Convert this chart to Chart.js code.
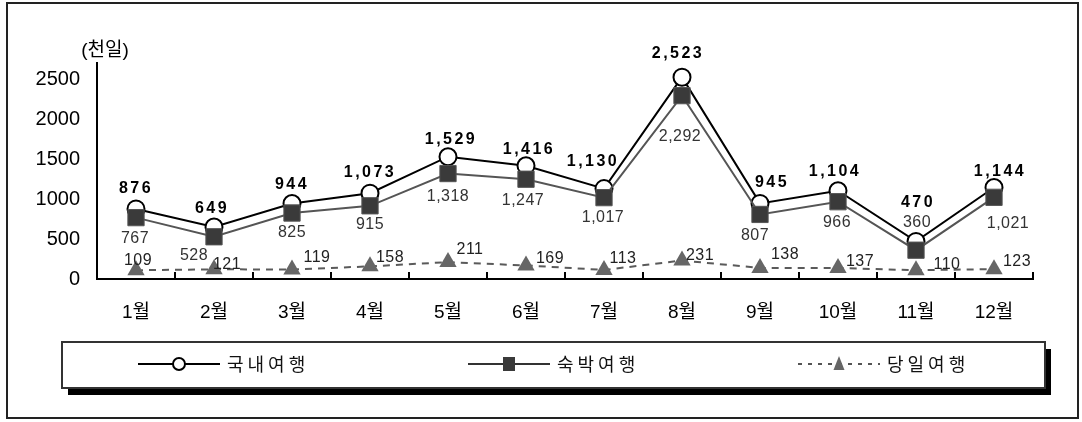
<!DOCTYPE html>
<html>
<head>
<meta charset="utf-8">
<script src="https://cdn.jsdelivr.net/npm/chart.js@4.4.0/dist/chart.umd.min.js"></script>
<style>
html,body{margin:0;padding:0;background:#fff;}
#wrap{width:1082px;height:422px;position:relative;}
canvas{display:block;}
</style>
</head>
<body>
<div id="wrap"><canvas id="c" width="1082" height="422"></canvas></div>
<script>
// ---- data ----
const months = ['1월','2월','3월','4월','5월','6월','7월','8월','9월','10월','11월','12월'];
const domestic = [876, 649, 944, 1073, 1529, 1416, 1130, 2523, 945, 1104, 470, 1144];
const overnight = [767, 528, 825, 915, 1318, 1247, 1017, 2292, 807, 966, 360, 1021];
const dayTrip = [109, 121, 119, 158, 211, 169, 113, 231, 138, 137, 110, 123];
const seriesNames = ['국내여행', '숙박여행', '당일여행'];
const yTickValues = [0, 500, 1000, 1500, 2000, 2500];
const unitLabel = '(천일)';

// ---- label placement (relative offsets, styling only) ----
const labelOffsets = [
  [[0,-20],[-2,-18],[0,-19],[0,-21],[3,-17],[3,-16],[-11,-27],[-4,-24],[12,-21],[-3,-19],[2,-39],[6,-16]],
  [[-1,21],[-20,19],[0,20],[0,19],[0,23],[-3,21],[-1,20],[-2,41],[-5,21],[-1,21],[1,-28],[14,26]],
  [[2,-10],[13,-5],[25,-12],[20,-9],[22,-13],[24,-7],[19,-11],[18,-5],[25,-13],[22,-6],[31,-6],[23,-8]]
];
const labelFonts = [
  {font:'bold 16px "Liberation Sans", Arial, sans-serif', color:'#000', spacing:'2.5px'},
  {font:'16px "Liberation Sans", Arial, sans-serif', color:'#333', spacing:'0.5px'},
  {font:'16px "Liberation Sans", Arial, sans-serif', color:'#222', spacing:'0.5px'}
];

function fmt(v){ return v.toLocaleString('en-US'); }

const extras = {
  id: 'extras',
  beforeDraw(chart){
    const ctx = chart.ctx;
    ctx.save();
    ctx.fillStyle = '#fff';
    ctx.fillRect(0,0,chart.width,chart.height);
    ctx.restore();
  },
  afterDraw(chart){
    const ctx = chart.ctx;
    const xs = chart.scales.x;
    const area = chart.chartArea;
    ctx.save();
    // outer frame
    ctx.strokeStyle = '#222';
    ctx.lineWidth = 2;
    ctx.strokeRect(7, 3, 1071, 415);

    // upward tick marks on x axis between categories
    ctx.strokeStyle = '#000';
    ctx.lineWidth = 2;
    for (let i = 0; i <= months.length; i++) {
      const x = Math.round(xs.getPixelForValue(i - 0.5));
      ctx.beginPath();
      ctx.moveTo(x, area.bottom);
      ctx.lineTo(x, area.bottom - 7);
      ctx.stroke();
    }

    // unit label
    ctx.fillStyle = '#000';
    ctx.font = '19px "Liberation Sans", "Noto Sans CJK KR", sans-serif';
    ctx.textAlign = 'center';
    ctx.textBaseline = 'middle';
    ctx.fillText(unitLabel, area.left + 8, area.top - 12);

    // legend box with shadow
    const lx = 62, ly = 342, lw = 983, lh = 46;
    ctx.fillStyle = '#000';
    ctx.fillRect(lx + 6, ly + 7, lw, lh);
    ctx.fillStyle = '#fff';
    ctx.fillRect(lx, ly, lw, lh);
    ctx.strokeStyle = '#333';
    ctx.lineWidth = 2;
    ctx.strokeRect(lx, ly, lw, lh);

    const cy = 364;
    chart.data.datasets.forEach((ds, i) => {
      const x0 = 138 + 330 * i, x1 = x0 + 82, mx = x0 + 41, tx = x0 + 89;
      ctx.save();
      ctx.strokeStyle = i === 0 ? '#000' : (i === 1 ? '#333' : '#555');
      ctx.lineWidth = 2;
      ctx.setLineDash(i === 2 ? [4,6] : []);
      ctx.beginPath();
      ctx.moveTo(x0, cy); ctx.lineTo(x1, cy);
      ctx.stroke();
      ctx.setLineDash([]);
      if (i === 0) {
        ctx.fillStyle = '#fff'; ctx.strokeStyle = '#000'; ctx.lineWidth = 2;
        ctx.beginPath(); ctx.arc(mx, cy, 6, 0, Math.PI*2); ctx.fill(); ctx.stroke();
      } else if (i === 1) {
        ctx.fillStyle = '#3a3a3a';
        ctx.fillRect(mx - 6, cy - 7, 12, 14);
      } else {
        ctx.fillStyle = '#666';
        ctx.beginPath(); ctx.moveTo(mx, cy - 8); ctx.lineTo(mx + 5.5, cy + 6); ctx.lineTo(mx - 5.5, cy + 6); ctx.closePath(); ctx.fill();
      }
      ctx.restore();
      ctx.save();
      ctx.fillStyle = '#111';
      ctx.font = '18px "Noto Sans CJK KR", sans-serif';
      ctx.letterSpacing = '4px';
      ctx.textAlign = 'left';
      ctx.textBaseline = 'middle';
      ctx.fillText(ds.label, tx, cy);
      ctx.restore();
    });
    ctx.restore();
  },
  afterDatasetsDraw(chart){
    const ctx = chart.ctx;
    chart.data.datasets.forEach((ds, di) => {
      const meta = chart.getDatasetMeta(di);
      const st = labelFonts[di];
      ctx.save();
      ctx.font = st.font;
      ctx.fillStyle = st.color;
      ctx.letterSpacing = st.spacing;
      ctx.textAlign = 'center';
      ctx.textBaseline = 'middle';
      meta.data.forEach((pt, i) => {
        const off = labelOffsets[di][i];
        ctx.fillText(fmt(ds.data[i]), pt.x + off[0], pt.y + off[1]);
      });
      ctx.restore();
    });
  }
};

const chart = new Chart(document.getElementById('c'), {
  type: 'line',
  data: {
    labels: months,
    datasets: [
      {
        label: seriesNames[0], data: domestic, order: 1,
        borderColor: '#000', borderWidth: 2,
        pointStyle: 'circle', pointRadius: 8.5, pointBackgroundColor: '#fff',
        pointBorderColor: '#000', pointBorderWidth: 2, tension: 0
      },
      {
        label: seriesNames[1], data: overnight, order: 0,
        borderColor: '#555', borderWidth: 2,
        pointStyle: 'rect', pointRadius: 11.5, pointBackgroundColor: '#3a3a3a',
        pointBorderColor: '#555', pointBorderWidth: 1, tension: 0
      },
      {
        label: seriesNames[2], data: dayTrip, order: 2,
        borderColor: '#5a5a5a', borderWidth: 2, borderDash: [7,6],
        pointStyle: 'triangle', pointRadius: 10, pointBackgroundColor: '#666',
        pointBorderColor: '#666', pointBorderWidth: 0, tension: 0
      }
    ]
  },
  options: {
    responsive: false,
    animation: false,
    devicePixelRatio: 1,
    layout: { padding: { left: 0, top: 63, right: 49, bottom: 0 } },
    plugins: { legend: { display: false }, tooltip: { enabled: false } },
    scales: {
      x: {
        offset: true,
        grid: { display: true, drawOnChartArea: false, drawTicks: false, offset: true },
        border: { display: true, color: '#000', width: 2 },
        ticks: { color: '#000', padding: 22, font: { size: 19, family: '"Liberation Sans", "Noto Sans CJK KR", sans-serif' } },
        afterFit(s){ s.height = 422 - 63 - 216; }
      },
      y: {
        min: 0, max: 2700,
        afterBuildTicks(s){ s.ticks = yTickValues.map(v => ({value: v})); },
        grid: { display: true, drawOnChartArea: false, drawTicks: false },
        border: { display: true, color: '#000', width: 2 },
        ticks: { color: '#000', padding: 17, callback: v => String(v), font: { size: 20, family: '"Liberation Sans", Arial, sans-serif' } },
        afterFit(s){ s.width = 97; }
      }
    }
  },
  plugins: [extras]
});
</script>
</body>
</html>
